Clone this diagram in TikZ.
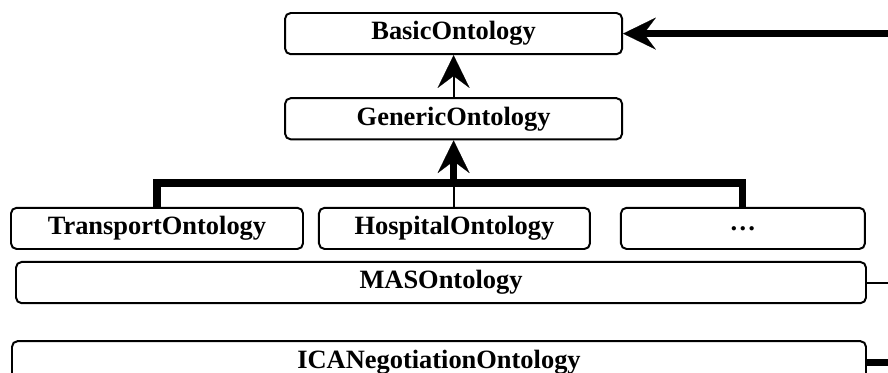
\documentclass[tikz,border=0pt]{standalone}
\usepackage{fontspec}
\setmainfont{Liberation Serif}
\usetikzlibrary{positioning,arrows.meta,calc}

\begin{document}
\begin{tikzpicture}[
  font=\fontsize{18.8}{22}\selectfont\bfseries,
  box/.style={draw=black, line width=1.4pt, rounded corners=4pt,
              fill=white, align=center, inner sep=2pt, minimum height=1.03cm},
  tip/.style={-{Stealth[length=8.2mm, width=8mm, inset=3mm, line width=0.1pt]}},
  thinarr/.style={tip, line width=1.4pt},
  bus/.style={line width=5pt},
  busarr/.style={bus, tip},
]
\useasboundingbox (0,0) rectangle (22.2,-9.325);

% ─── top: basic and generic ────────────────────────────────────────────────
\node[box, minimum width=8.425cm] (basic) at (11.34,-0.84) {BasicOntology};
\node[box, minimum width=8.425cm, below=1.05cm of basic] (generic) {GenericOntology};

% ─── domain ontologies ─────────────────────────────────────────────────────
\node[box, minimum width=7.3cm] (transport) at (3.925,-5.71) {TransportOntology};
\node[box, minimum width=6.775cm, right=0.35cm of transport] (hospital) {HospitalOntology};
\node[box, minimum width=6.1cm, right=0.725cm of hospital] (dots) {\dots};

% ─── bottom rows ───────────────────────────────────────────────────────────
\node[box, minimum width=21.25cm, below=0.275cm of transport.south west,
      anchor=north west, xshift=0.125cm] (mas) {MASOntology};
\node[box, minimum width=21.35cm, minimum height=1.05cm, below=0.9cm of mas.south west,
      anchor=north west, xshift=-0.1cm] (ica) {ICANegotiationOntology};

% ─── connectors ────────────────────────────────────────────────────────────
\coordinate (bar) at (0,-4.575);
\coordinate (edge) at (22.2,0);

\draw[thinarr] (generic.north) -- (basic.south);
\draw[bus] (transport.north) -- (transport.north |- bar)
  -- (dots.north |- bar) -- (dots.north);
\draw[line width=1.4pt] (hospital.north) -- (hospital.north |- bar);
\draw[busarr] (generic.south |- bar) -- (generic.south);

\draw[busarr] (basic.east -| edge) -- (basic.east);
\draw[line width=1.4pt] (mas.east) -- (mas.east -| edge);
\draw[bus] (ica.east) -- (ica.east -| edge);

\end{tikzpicture}
\end{document}
